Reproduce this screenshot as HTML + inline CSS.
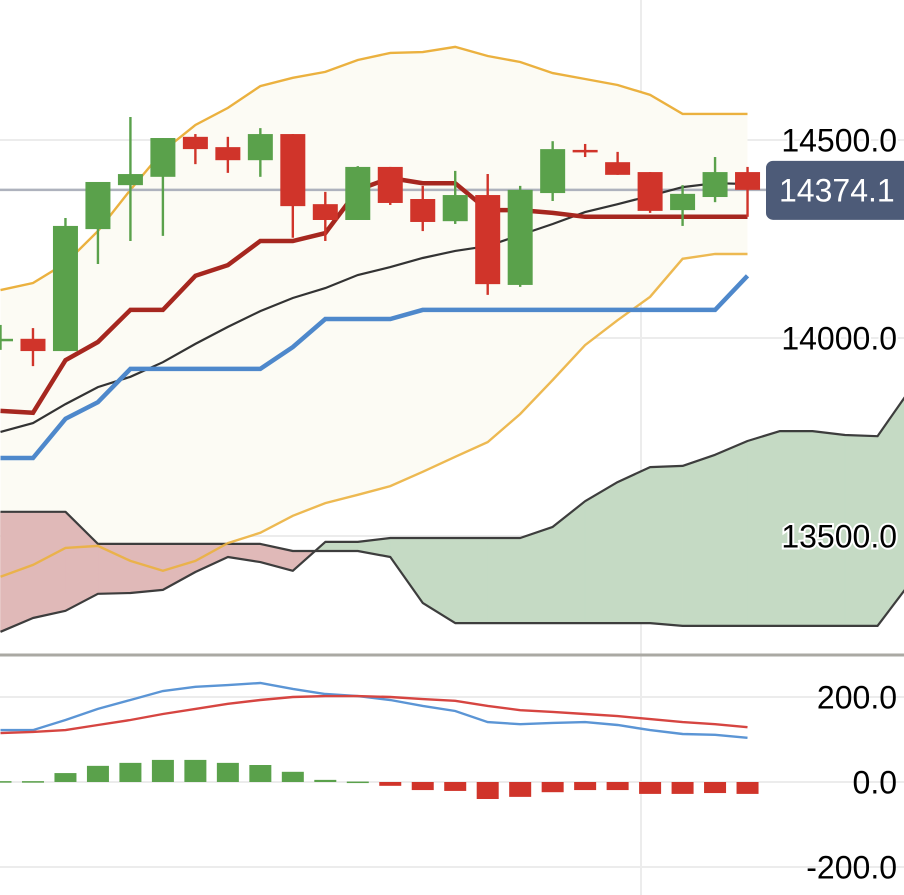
<!DOCTYPE html>
<html><head><meta charset="utf-8"><style>
html,body{margin:0;padding:0;background:#fff;}
svg{display:block;font-family:"Liberation Sans",sans-serif;}
</style></head><body>
<svg id="chart" width="904" height="895" viewBox="0 0 904 895" xmlns="http://www.w3.org/2000/svg">
<g id="grid"></g>
<g id="band"></g>
<g id="cloud"></g>
<g id="lines"></g>
<g id="candles"></g>
<g id="macd"></g>
<g id="axis"></g>
</svg>
<script>
const opens  =[13992,13998,13967,14275,14386,14407,14508,14482,14449,14515,14338,14298,14432,14351,14295,14361,14134,14366,14475,14444,14419,14323,14356,14419];
const highs  =[14033,14025,14303,14394,14558,14505,14515,14508,14530,14515,14369,14434,14432,14384,14422,14414,14384,14497,14490,14470,14419,14386,14457,14432];
const lows   =[13970,13929,13967,14187,14245,14258,14439,14417,14407,14253,14245,14298,14336,14270,14288,14109,14129,14346,14457,14412,14316,14283,14343,14306];
const closes =[13998,13967,14283,14394,14414,14505,14477,14449,14515,14333,14298,14432,14341,14293,14361,14136,14374,14477,14473,14412,14321,14364,14419,14374.1];
const tenkan =[13816,13811,13944,13990,14071,14071,14157,14184,14245,14245,14265,14374,14404,14391,14391,14323,14323,14316,14306,14306,14306,14306,14306,14306];
const kijun  =[13697,13697,13796,13838,13922,13922,13922,13922,13922,13977,14048,14048,14048,14071,14071,14071,14071,14071,14071,14071,14071,14071,14071,14157];
const bbMid  =[13763,13785,13833,13876,13902,13939,13985,14028,14068,14101,14126,14159,14179,14202,14220,14232,14260,14288,14318,14338,14359,14381,14391,14389];
const bbUp   =[14121,14139,14189,14270,14374,14472,14538,14581,14636,14657,14672,14702,14720,14722,14735,14712,14697,14669,14654,14639,14614,14566,14566,14566];
const bbLow  =[13397,13427,13470,13475,13437,13412,13437,13482,13508,13551,13583,13604,13626,13662,13700,13737,13808,13894,13982,14045,14104,14200,14212,14212];
const spanA  =[13258,13293,13311,13354,13356,13364,13409,13447,13434,13412,13485,13485,13495,13495,13495,13495,13495,13523,13588,13636,13674,13677,13705,13740,13765,13765,13755,13752,13869];
const spanB  =[13561,13561,13561,13480,13480,13480,13480,13480,13480,13462,13462,13462,13447,13331,13280,13280,13280,13280,13280,13280,13280,13273,13273,13273,13273,13273,13273,13273,13381];
const macdLine=[122,122,146,172,193,214,224,228,233,219,207,202,193,179,167,141,136,139,141,134,122,113,111,104];
const signalLine=[115,118,122,134,146,160,172,184,193,200,202,202,200,195,191,179,169,165,160,155,148,141,136,129];
const hist   =[2,2,21,38,45,52,52,45,40,24,5,1,-9,-19,-21,-40,-35,-24,-19,-19,-28,-28,-26,-28];
const priceTicks=[14500,14000,13500];
const macdTicks=[200,0,-200];
const lastPrice=14374.1;

const NS="http://www.w3.org/2000/svg";
const X=i=>0.5+i*32.48;
const Y=v=>140+(14500-v)*0.396;
const MY=v=>782-v*0.425;
function mk(tag,parent,attrs){const e=document.createElementNS(NS,tag);for(const k in attrs)e.setAttribute(k,attrs[k]);document.getElementById(parent).appendChild(e);return e;}
function pts(arr,fy){return arr.map((v,i)=>X(i).toFixed(1)+","+fy(v).toFixed(1)).join(" ");}

priceTicks.forEach(t=>{const l=mk("line","grid",{x1:0,x2:904,y1:Y(t),y2:Y(t),stroke:"#ececec","stroke-width":2});

});
macdTicks.forEach(t=>{const l=mk("line","grid",{x1:0,x2:904,y1:MY(t),y2:MY(t),stroke:"#ececec","stroke-width":2});

});
const vg=mk("line","grid",{x1:641,x2:641,y1:0,y2:895,stroke:"#ececec","stroke-width":2});



const bandPts=bbUp.map((v,i)=>X(i)+","+Y(v)).concat(bbLow.map((v,i)=>X(i)+","+Y(v)).reverse()).join(" ");
const bf=mk("polygon","band",{points:bandPts,fill:"#fcfbf4"});



for(let i=0;i<spanA.length-1;i++){
  const a0=spanA[i],a1=spanA[i+1],b0=spanB[i],b1=spanB[i+1];
  const d0=a0-b0,d1=a1-b1;
  const segs=[];
  if(d0*d1<0){const t=d0/(d0-d1);const xm=X(i)+t*(X(i+1)-X(i));const vm=a0+t*(a1-a0);
    segs.push([[X(i),Y(a0)],[xm,Y(vm)],[X(i),Y(b0)],d0]);
    segs.push([[xm,Y(vm)],[X(i+1),Y(a1)],[X(i+1),Y(b1)],d1]);
  } else {segs.push([[X(i),Y(a0)],[X(i+1),Y(a1)],[X(i+1),Y(b1)],[X(i),Y(b0)],d0+d1]);}
  segs.forEach(s=>{const d=s.pop();const p=mk("polygon","cloud",{points:s.map(q=>q.join(",")).join(" "),fill:d>=0?"#c5dac4":"#e0b9b8",stroke:d>=0?"#c5dac4":"#e0b9b8","stroke-width":0.6});
  
  });
}
const sa=mk("polyline","cloud",{points:pts(spanA,Y),fill:"none",stroke:"#3d3d3d","stroke-width":2.2,"stroke-linejoin":"round"});


const sb=mk("polyline","cloud",{points:pts(spanB,Y),fill:"none",stroke:"#3d3d3d","stroke-width":2.2,"stroke-linejoin":"round"});



const bu=mk("polyline","lines",{points:pts(bbUp,Y),fill:"none",stroke:"#ebb13f","stroke-width":2.4});


const bl=mk("polyline","lines",{points:pts(bbLow,Y),fill:"none",stroke:"#ebb13f","stroke-width":2.4,opacity:0.9});


const pl=mk("line","lines",{x1:0,x2:766,y1:Y(lastPrice),y2:Y(lastPrice),stroke:"#aeb2bd","stroke-width":2.5});


const bm=mk("polyline","lines",{points:pts(bbMid,Y),fill:"none",stroke:"#333","stroke-width":2.2});


const kj=mk("polyline","lines",{points:pts(kijun,Y),fill:"none",stroke:"#4e88cb","stroke-width":4.5});


const tk=mk("polyline","lines",{points:pts(tenkan,Y),fill:"none",stroke:"#a6271f","stroke-width":4.5});



opens.forEach((o,i)=>{const c=closes[i];const up=c>=o;const col=up?"#5aa14b":"#d0342a";
  const w=mk("line","candles",{x1:X(i),x2:X(i),y1:Y(highs[i]),y2:Y(lows[i]),stroke:col,"stroke-width":2.4});
  
  
  const top=Y(Math.max(o,c)),h=Math.max(2.5,Math.abs(Y(o)-Y(c)));
  const b=mk("rect","candles",{x:X(i)-12.5,y:top,width:25,height:h,fill:col});
  
  
});

const sep=mk("line","macd",{x1:0,x2:904,y1:655,y2:655,stroke:"#aaa9a3","stroke-width":3});


hist.forEach((v,i)=>{const y0=MY(0),y1=MY(v);
  const r=mk("rect","macd",{x:X(i)-11,y:Math.min(y0,y1),width:22,height:Math.max(1.5,Math.abs(y1-y0)),fill:v>=0?"#5aa14b":"#d0342a"});
  
  });
const ml=mk("polyline","macd",{points:pts(macdLine,MY),fill:"none",stroke:"#5b95d5","stroke-width":2.4});


const sl=mk("polyline","macd",{points:pts(signalLine,MY),fill:"none",stroke:"#d64541","stroke-width":2.4});



priceTicks.forEach(t=>{const tx=mk("text","axis",{x:897,y:Y(t)+11.5,"text-anchor":"end","font-size":32,fill:"#000",stroke:"#fff","stroke-width":4,"paint-order":"stroke"});tx.textContent=t.toFixed(1);

});
macdTicks.forEach(t=>{const tx=mk("text","axis",{x:897,y:MY(t)+11.5,"text-anchor":"end","font-size":32,fill:"#000"});tx.textContent=t.toFixed(1);

});
const tag=mk("rect","axis",{x:766,y:Y(lastPrice)-29,width:150,height:59,rx:7,fill:"#4d5b78"});


const tt=mk("text","axis",{x:779,y:Y(lastPrice)+11.5,"font-size":32,fill:"#fff"});tt.textContent=lastPrice.toFixed(1);


</script>
</body></html>
